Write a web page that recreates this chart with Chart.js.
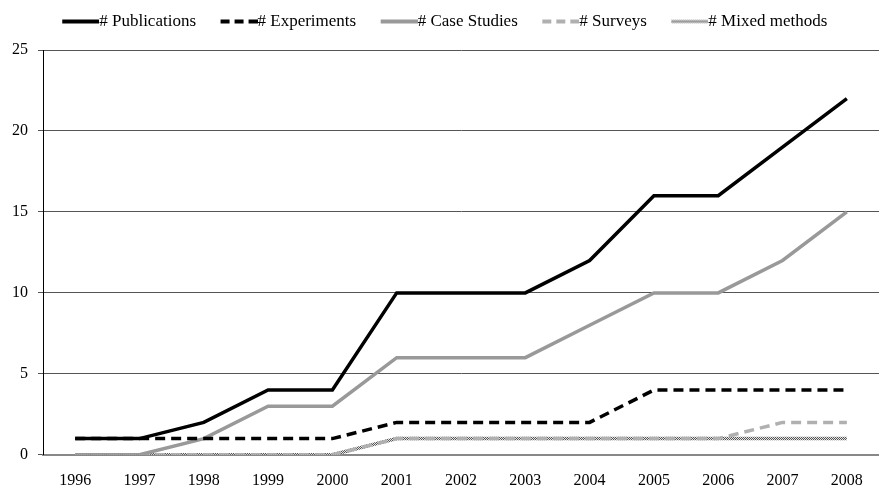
<!DOCTYPE html>
<html>
<head>
<meta charset="utf-8">
<script src="https://cdn.jsdelivr.net/npm/chart.js@4"></script>
<style>
  body { margin: 0; background: #fff; }
  #wrap { width: 879px; height: 489px; }
</style>
</head>
<body>
<div id="wrap"><canvas id="trendChart" width="879" height="489"></canvas></div>
<script>
const years = ["1996", "1997", "1998", "1999", "2000", "2001", "2002", "2003", "2004", "2005", "2006", "2007", "2008"];
const publications = [1, 1, 2, 4, 4, 10, 10, 10, 12, 16, 16, 19, 22];
const experiments = [1, 1, 1, 1, 1, 2, 2, 2, 2, 4, 4, 4, 4];
const caseStudies = [0, 0, 1, 3, 3, 6, 6, 6, 8, 10, 10, 12, 15];
const surveys = [0, 0, 0, 0, 0, 1, 1, 1, 1, 1, 1, 2, 2];
const mixedMethods = [0, 0, 0, 0, 0, 1, 1, 1, 1, 1, 1, 1, 1];

const serif = "'Liberation Serif', 'DejaVu Serif', serif";
const ctx = document.getElementById('trendChart').getContext('2d');

// speckled fill for the mixed methods line
const speck = document.createElement('canvas');
speck.width = 2; speck.height = 2;
const sctx = speck.getContext('2d');
sctx.fillStyle = '#e6e6e6'; sctx.fillRect(0, 0, 2, 2);
sctx.fillStyle = '#555'; sctx.fillRect(0, 0, 1, 1); sctx.fillRect(1, 1, 1, 1);
const speckPattern = ctx.createPattern(speck, 'repeat');

// legend line samples: canvas is wider than the box so the line ends right at the text
function sample(color, width, dash) {
  const c = document.createElement('canvas');
  c.width = 54; c.height = 6;
  const g = c.getContext('2d');
  g.strokeStyle = color === 'speck' ? g.createPattern(speck, 'repeat') : color;
  g.lineWidth = width;
  g.setLineDash(dash);
  g.beginPath(); g.moveTo(17, 3); g.lineTo(54, 3); g.stroke();
  return c;
}

let chart = new Chart(ctx, {
  type: 'line',
  data: {
    labels: years,
    datasets: [
      { label: "# Publications", data: publications, borderColor: "#000", borderWidth: 3.5,
        pointStyle: sample('#000', 4, []) },
      { label: "# Experiments", data: experiments, borderColor: "#000", borderWidth: 3.5, borderDash: [10, 6],
        pointStyle: sample('#000', 4, [9, 5]) },
      { label: "# Case Studies", data: caseStudies, borderColor: "#999", borderWidth: 3.5,
        pointStyle: sample('#999', 4, []) },
      { label: "# Surveys", data: surveys, borderColor: "#b0b0b0", borderWidth: 3.5, borderDash: [10, 6],
        pointStyle: sample('#b0b0b0', 4, [9, 5]) },
      { label: "# Mixed methods", data: mixedMethods, borderColor: speckPattern, borderWidth: 3.5,
        pointStyle: sample('speck', 3, []) }
    ].map(d => Object.assign({ pointRadius: 0, tension: 0, fill: false, borderCapStyle: 'butt' }, d))
  },
  options: {
    responsive: false,
    animation: false,
    layout: { padding: { left: 2, right: 0, top: -3, bottom: -17 } },
    plugins: {
      tooltip: { enabled: false },
      legend: {
        position: 'top',
        labels: {
          usePointStyle: true,
          pointStyleWidth: 37,
          color: '#000',
          padding: 16,
          font: { family: serif, size: 17 }
        }
      }
    },
    scales: {
      x: {
        offset: true,
        grid: { display: false, drawTicks: false, tickLength: 0 },
        border: { display: true, color: '#888', width: 2 },
        ticks: { color: '#000', padding: 16, maxRotation: 0, font: { family: serif, size: 16 } }
      },
      y: {
        min: 0,
        max: 25,
        grid: { color: '#555', lineWidth: 1, tickLength: 5, drawTicks: true },
        border: { display: true, color: '#000', width: 1 },
        ticks: { stepSize: 5, color: '#000', padding: 10, font: { family: serif, size: 16 } }
      }
    }
  },
  plugins: [{
    id: 'legendGap',
    beforeInit(c) {
      const fit = c.legend.fit;
      c.legend.fit = function () { fit.bind(this)(); this.height += 10; };
    }
  }]
});
</script>
</body>
</html>
